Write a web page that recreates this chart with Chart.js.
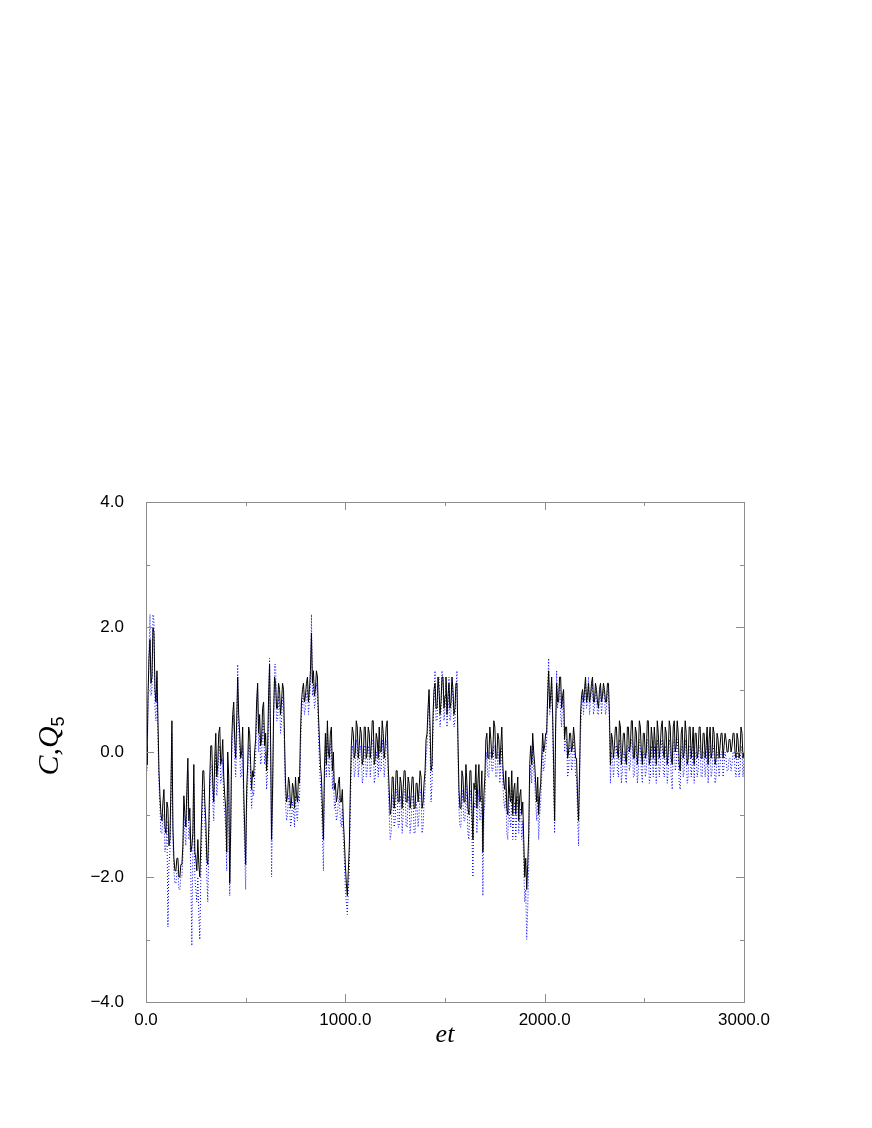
<!DOCTYPE html>
<html>
<head>
<meta charset="utf-8">
<script src="https://cdn.jsdelivr.net/npm/chart.js@4.4.0/dist/chart.umd.min.js"></script>
<style>
    html, body { margin: 0; padding: 0; background: #fff; }
    canvas { display: block; }
</style>
</head>
<body>
<canvas id="myChart" width="872" height="1128"></canvas>
<script>
// sample spacing of the time series (et)
const tStep = 5;

// C (black solid), one row = 100 units of et
const C = [
    0.1, -0.2, 0.9, 1.5, 1.8, 1.1, 1.2, 2.0, 1.9, 1.0,
    0.8, 1.3, 0.5, -0.3, -0.7, -1.0, -1.1, -0.8, -0.6, -1.2,
    -1.3, -0.8, -0.9, -1.5, -1.4, -0.6, 0.5, -1.2, -1.7, -1.9,
    -1.9, -1.7, -1.7, -2.0, -2.0, -1.8, -1.8, -1.5, -0.7, -1.0,
    -1.2, -0.6, -0.1, -1.1, -0.9, -1.6, -1.5, -1.3, -0.2, -1.6,
    -1.7, -1.9, -1.4, -1.8, -2.0, -1.5, -0.9, -0.3, -0.3, -0.8,
    -1.1, -1.7, -1.8, -1.2, -0.4, 0.1, 0.1, -0.5, -0.8, -0.1,
    0.3, -0.4, -0.2, 0.3, 0.4, -0.2, -0.1, 0.2, -0.4, -0.7,
    -0.9, -1.6, 0.0, -0.4, -2.1, -1.2, 0.2, 0.6, 0.8, 0.2,
    -0.1, 0.5, 1.2, 0.6, 0.3, -0.1, 0.0, 0.4, -0.6, -1.2,
    -1.8, -0.6, -0.2, 0.4, 0.3, -0.2, -0.6, -0.3, -0.4, 0.0,
    0.2, 0.8, 1.1, 0.3, 0.6, 0.1, 0.2, 0.7, 0.8, 0.1,
    0.3, -0.3, 0.0, 0.9, 1.4, 0.2, -1.4, -0.6, 0.6, 1.2,
    1.1, 0.7, 0.7, 1.1, 1.0, 0.6, 0.8, 1.1, 1.0, 0.2,
    -0.5, -0.8, -0.7, -0.4, -0.5, -0.9, -0.8, -0.5, -0.6, -0.9,
    -0.4, -0.7, -0.8, -0.4, -0.5, 0.3, 0.8, 1.0, 1.1, 0.8,
    0.9, 1.1, 1.2, 0.8, 1.0, 1.3, 1.9, 1.1, 1.3, 0.9,
    1.0, 1.3, 1.2, 0.6, 0.2, -0.2, -0.4, -0.9, -1.4, -0.3,
    0.3, -0.2, 0.5, 0.0, -0.1, 0.3, 0.4, -0.3, 0.0, -0.6,
    -0.5, -0.8, -0.7, -0.5, -0.4, -0.8, -0.8, -0.6, -1.1, -1.4,
    -1.8, -2.1, -2.3, -1.9, -1.5, -0.6, 0.1, 0.4, 0.3, -0.1,
    0.0, 0.5, 0.4, -0.1, 0.1, 0.4, 0.3, -0.2, -0.1, 0.4,
    0.4, -0.1, 0.0, 0.4, 0.3, -0.1, 0.1, 0.5, 0.5, -0.2,
    -0.1, 0.3, 0.2, -0.1, 0.4, 0.0, 0.0, 0.5, 0.3, -0.1,
    0.1, 0.4, 0.5, -0.2, -0.6, -1.0, -0.9, -0.4, -0.4, -0.9,
    -0.7, -0.3, -0.3, -0.8, -0.8, -0.4, -0.5, -0.9, -0.6, -0.3,
    -0.3, -0.8, -0.8, -0.4, -0.5, -0.9, -0.7, -0.4, -0.4, -0.9,
    -0.9, -0.5, -0.5, -0.8, -0.6, -0.3, -0.4, -0.9, -0.8, -0.5,
    -0.3, 0.2, 0.3, 0.7, 1.0, 0.4, -0.3, -0.2, 0.6, 1.0,
    1.1, 0.7, 0.7, 1.2, 1.0, 0.6, 0.8, 1.2, 1.2, 0.7,
    0.9, 1.2, 0.6, 0.9, 1.1, 0.7, 0.8, 1.2, 1.0, 0.6,
    0.7, 1.1, 1.1, 0.2, -0.6, -0.9, -0.9, -0.3, -0.4, -0.8,
    -0.8, -0.2, -0.5, -0.9, -1.0, -0.3, -0.3, -0.9, -1.4, -0.5,
    -0.6, -0.2, -0.9, -0.5, -0.2, -0.8, -0.7, -0.3, -1.6, -0.7,
    -0.4, 0.2, 0.3, -0.1, -0.1, 0.4, 0.2, -0.1, 0.0, 0.5,
    0.4, -0.1, -0.1, 0.3, 0.2, -0.2, 0.1, 0.4, -0.2, -0.5,
    -0.6, -0.3, -0.9, -1.0, -0.4, -0.7, -0.8, -0.3, -1.0, -0.6,
    -0.5, -1.0, -0.7, -0.4, -1.1, -0.7, -0.6, -1.0, -0.8, -1.4,
    -2.0, -1.7, -2.2, -1.8, -1.3, -0.2, 0.1, -0.2, 0.3, 0.0,
    -0.2, -0.5, -0.8, -0.4, -1.0, -0.7, -0.5, -0.1, 0.3, 0.0,
    0.1, 0.3, 0.3, 0.9, 1.3, 0.7, 0.9, 1.2, 0.6, -0.2,
    -1.1, 0.4, 1.1, 0.8, 0.8, 1.2, 1.2, 0.7, 0.9, 1.0,
    0.2, 0.4, 0.4, -0.1, 0.0, 0.3, 0.3, 0.0, 0.1, 0.4,
    0.2, -0.1, -0.1, -0.7, -1.1, -0.3, 0.6, 0.9, 1.0, 0.8,
    1.0, 1.2, 0.8, 0.9, 1.1, 0.8, 0.9, 1.1, 1.2, 0.8,
    0.8, 1.1, 1.0, 0.8, 0.7, 1.0, 1.1, 0.8, 0.9, 1.1,
    1.0, 0.8, 0.8, 1.1, 1.1, 0.6, -0.2, 0.3, 0.2, -0.1,
    0.1, 0.4, 0.4, 0.0, -0.1, 0.5, 0.4, -0.2, 0.0, 0.3,
    0.3, -0.1, -0.2, 0.4, 0.4, 0.0, 0.1, 0.5, 0.5, -0.1,
    -0.1, 0.4, 0.3, -0.2, 0.0, 0.5, 0.4, 0.0, -0.2, 0.3,
    0.3, -0.1, 0.0, 0.5, 0.5, -0.2, -0.1, 0.4, 0.2, -0.1,
    0.4, 0.1, -0.2, 0.5, 0.3, -0.1, 0.1, 0.4, 0.5, 0.0,
    -0.1, 0.4, 0.3, -0.2, 0.0, 0.5, 0.4, -0.1, -0.2, 0.4,
    0.5, 0.0, 0.1, 0.5, 0.3, -0.2, -0.3, 0.3, 0.4, -0.1,
    0.0, 0.5, 0.3, -0.2, -0.1, 0.4, 0.4, -0.1, 0.1, 0.4,
    -0.2, 0.3, 0.3, -0.1, 0.0, 0.4, 0.4, -0.1, -0.1, 0.3,
    0.3, -0.1, 0.1, 0.4, -0.2, 0.2, 0.4, -0.1, 0.0, 0.4,
    0.3, -0.2, -0.1, 0.3, 0.2, -0.1, 0.1, 0.3, 0.3, -0.1,
    0.1, 0.3, 0.2, 0.0, 0.0, 0.2, 0.2, 0.0, 0.1, 0.3,
    0.3, 0.0, -0.1, 0.3, 0.2, -0.1, 0.0, 0.4, 0.3, -0.1,
    0.0
];

// Q5 (blue dotted), one row = 100 units of et
const Q5 = [
    0.0, -0.3, 0.6, 1.6, 2.2, 0.9, 1.0, 2.2, 2.1, 0.7,
    0.5, 1.2, 0.2, -0.5, -0.9, -1.3, -1.3, -1.0, -1.0, -1.6,
    -1.5, -1.1, -2.8, -1.8, -1.6, -0.8, 0.3, -1.4, -1.9, -2.1,
    -2.1, -1.9, -1.9, -2.2, -2.2, -2.0, -2.0, -1.7, -1.0, -1.3,
    -1.5, -0.9, -0.3, -1.4, -1.2, -2.0, -3.1, -1.6, -0.5, -2.0,
    -2.2, -2.4, -2.0, -2.6, -3.0, -2.0, -1.3, -0.6, -0.6, -1.1,
    -1.4, -2.0, -2.4, -1.5, -0.7, -0.2, -0.2, -0.8, -1.1, -0.4,
    0.0, -0.7, -0.5, 0.0, 0.1, -0.5, -0.4, -0.1, -0.8, -1.0,
    -1.2, -1.9, -0.3, -0.7, -2.3, -1.4, -0.1, 0.3, 0.6, -0.1,
    -0.4, 0.2, 1.4, 0.4, 0.0, -0.4, -0.4, 0.1, -0.9, -1.6,
    -2.2, -0.9, -0.5, 0.1, 0.1, -0.5, -0.9, -0.6, -0.7, -0.4,
    -0.1, 0.6, 1.1, 0.0, 0.3, -0.2, -0.1, 0.4, 0.5, -0.2,
    0.0, -0.6, -0.3, 0.7, 1.5, 0.0, -2.0, -0.9, 0.4, 1.4,
    1.4, 0.5, 0.5, 0.9, 0.8, 0.3, 0.5, 0.9, 0.9, -0.1,
    -0.8, -1.1, -1.0, -0.7, -0.8, -1.2, -1.1, -0.8, -0.9, -1.2,
    -0.7, -1.0, -1.1, -0.7, -0.8, 0.0, 0.6, 0.8, 0.9, 0.6,
    0.7, 0.9, 1.0, 0.6, 0.8, 1.1, 2.2, 0.9, 1.1, 0.7,
    0.8, 1.1, 1.0, 0.3, -0.2, -0.5, -0.8, -1.3, -1.9, -0.6,
    0.1, -0.4, 0.3, -0.2, -0.4, 0.1, 0.2, -0.6, -0.3, -0.9,
    -0.8, -1.1, -1.0, -0.8, -0.7, -1.1, -1.2, -0.9, -1.4, -1.7,
    -2.2, -2.4, -2.6, -2.2, -1.9, -0.9, -0.2, 0.1, 0.0, -0.4,
    -0.3, 0.2, 0.1, -0.4, -0.2, 0.1, 0.0, -0.5, -0.4, 0.1,
    0.1, -0.4, -0.3, 0.1, 0.0, -0.4, -0.2, 0.2, 0.2, -0.5,
    -0.4, 0.0, -0.1, -0.4, 0.1, -0.3, -0.3, 0.2, 0.0, -0.4,
    -0.2, 0.1, 0.2, -0.5, -1.0, -1.4, -1.3, -0.7, -0.7, -1.2,
    -1.1, -0.6, -0.6, -1.2, -1.2, -0.7, -0.8, -1.3, -1.0, -0.6,
    -0.6, -1.2, -1.2, -0.7, -0.8, -1.3, -1.1, -0.7, -0.7, -1.3,
    -1.3, -0.8, -0.9, -1.2, -1.0, -0.6, -0.7, -1.3, -1.2, -0.8,
    -0.6, -0.1, 0.1, 0.6, 0.9, 0.1, -0.8, -0.5, 0.4, 0.9,
    1.3, 0.5, 0.5, 1.1, 1.2, 0.4, 0.6, 1.3, 1.1, 0.5,
    0.7, 1.1, 0.4, 0.7, 1.2, 0.5, 0.6, 1.1, 0.9, 0.4,
    0.5, 1.0, 1.3, 0.0, -0.9, -1.2, -1.2, -0.6, -0.8, -1.1,
    -1.1, -0.5, -0.8, -1.3, -1.4, -0.6, -0.7, -1.3, -2.0, -0.8,
    -0.9, -0.5, -1.3, -0.9, -0.6, -1.1, -1.0, -0.7, -2.3, -1.0,
    -0.8, -0.2, 0.0, -0.4, -0.4, 0.0, 0.0, -0.3, -0.3, 0.1,
    0.1, -0.4, -0.4, 0.0, -0.1, -0.5, -0.2, 0.1, -0.5, -0.8,
    -0.9, -0.6, -1.3, -1.4, -0.7, -1.1, -1.2, -0.6, -1.4, -1.0,
    -0.8, -1.4, -1.0, -0.7, -1.3, -1.0, -0.9, -1.4, -1.1, -1.8,
    -2.4, -2.2, -3.0, -2.5, -1.8, -0.5, -0.2, -0.5, 0.1, -0.3,
    -0.5, -0.8, -1.1, -0.7, -1.4, -1.0, -0.8, -0.4, 0.1, -0.3,
    -0.2, 0.0, 0.2, 1.0, 1.5, 0.6, 0.7, 1.1, 0.5, -0.5,
    -1.3, 0.2, 1.3, 0.7, 1.0, 1.1, 0.6, 0.4, 0.9, 0.8,
    0.0, 0.2, 0.2, -0.4, -0.3, 0.1, 0.1, -0.3, -0.2, 0.2,
    0.0, -0.4, -0.4, -1.0, -1.5, -0.6, 0.3, 0.7, 0.9, 0.6,
    0.9, 1.1, 0.7, 0.8, 1.2, 0.6, 0.8, 1.0, 1.1, 0.6,
    0.7, 1.0, 0.9, 0.6, 0.6, 0.9, 1.0, 0.6, 0.8, 1.0,
    0.9, 0.6, 0.7, 1.0, 1.0, 0.4, -0.5, 0.0, -0.1, -0.4,
    -0.2, 0.1, 0.1, -0.3, -0.4, 0.2, 0.1, -0.5, -0.3, 0.0,
    0.0, -0.4, -0.5, 0.1, 0.1, -0.3, -0.2, 0.2, 0.2, -0.4,
    -0.4, 0.1, 0.0, -0.5, -0.3, 0.2, 0.1, -0.3, -0.5, 0.0,
    0.0, -0.4, -0.3, 0.2, 0.2, -0.5, -0.4, 0.1, -0.1, -0.4,
    0.1, -0.2, -0.5, 0.2, 0.0, -0.4, -0.2, 0.1, 0.2, -0.3,
    -0.4, 0.1, 0.0, -0.5, -0.3, 0.2, 0.1, -0.4, -0.6, 0.1,
    0.2, -0.3, -0.2, 0.2, 0.0, -0.5, -0.6, 0.0, 0.1, -0.4,
    -0.3, 0.2, 0.0, -0.5, -0.4, 0.1, 0.1, -0.4, -0.2, 0.1,
    -0.5, 0.0, 0.0, -0.4, -0.3, 0.1, 0.1, -0.4, -0.4, 0.0,
    0.0, -0.4, -0.2, 0.1, -0.5, -0.1, 0.1, -0.4, -0.3, 0.1,
    0.0, -0.5, -0.4, 0.0, -0.1, -0.4, -0.2, 0.0, 0.0, -0.4,
    -0.2, 0.0, -0.1, -0.3, -0.3, -0.1, -0.1, -0.3, -0.2, 0.0,
    0.0, -0.3, -0.4, 0.0, -0.1, -0.4, -0.3, 0.1, 0.0, -0.4,
    -0.1
];

const xTicks = [0, 1000, 2000, 3000];
const yTicks = [-4, -2, 0, 2, 4];

const toPoints = arr => arr.map((v, i) => ({ x: i * tStep, y: v }));
const fmt = v => (v < 0 ? '\u2212' : '') + Math.abs(v).toFixed(1);

// frame, inward ticks and axis titles
const framePlugin = {
    id: 'frame',
    afterDraw(chart) {
        const { ctx, chartArea: a, scales } = chart;
        const sx = scales.x, sy = scales.y;
        ctx.save();
        ctx.strokeStyle = '#8c8c8c';
        ctx.lineWidth = 1;
        ctx.strokeRect(a.left + 0.5, a.top + 0.5, a.right - a.left, a.bottom - a.top);

        ctx.beginPath();
        for (let v = 0; v <= 3000; v += 500) {
            const px = Math.round(sx.getPixelForValue(v)) + 0.5;
            const len = (v % 1000 === 0) ? 8 : 4;
            ctx.moveTo(px, a.bottom); ctx.lineTo(px, a.bottom - len);
            ctx.moveTo(px, a.top); ctx.lineTo(px, a.top + len);
        }
        for (let v = -4; v <= 4; v += 1) {
            const py = Math.round(sy.getPixelForValue(v)) + 0.5;
            const len = (v % 2 === 0) ? 8 : 4;
            ctx.moveTo(a.left, py); ctx.lineTo(a.left + len, py);
            ctx.moveTo(a.right, py); ctx.lineTo(a.right - len, py);
        }
        ctx.stroke();

        // x title
        ctx.fillStyle = '#000';
        ctx.font = 'italic 26px "Liberation Serif"';
        ctx.textAlign = 'center';
        ctx.textBaseline = 'alphabetic';
        ctx.fillText('et', (a.left + a.right) / 2, 1042);

        // y title  C,Q5
        ctx.translate(58, 746);
        ctx.rotate(-Math.PI / 2);
        ctx.textAlign = 'left';
        ctx.font = 'italic 30px "Liberation Serif"';
        const main = 'C,Q';
        const w = ctx.measureText(main).width;
        ctx.font = '18px "Liberation Sans"';
        const ws = ctx.measureText('5').width;
        const x0 = -(w + ws) / 2;
        ctx.font = 'italic 30px "Liberation Serif"';
        ctx.fillText(main, x0, 0);
        ctx.font = '18px "Liberation Sans"';
        ctx.fillText('5', x0 + w, 6);
        ctx.restore();
    }
};

const ctx = document.getElementById('myChart').getContext('2d');
const myChart = new Chart(ctx, {
    type: 'line',
    data: {
        datasets: [{
            label: 'C',
            data: toPoints(C),
            borderColor: '#000000',
            borderWidth: 1,
            pointRadius: 0,
            tension: 0
        }, {
            label: 'Q5',
            data: toPoints(Q5),
            borderColor: '#0000ff',
            borderWidth: 1,
            borderDash: [1, 2],
            pointRadius: 0,
            tension: 0
        }]
    },
    options: {
        responsive: false,
        devicePixelRatio: 1,
        animation: false,
        layout: { padding: { left: 0, top: 502, right: 128, bottom: 0 } },
        plugins: { legend: { display: false }, tooltip: { enabled: false } },
        scales: {
            x: {
                type: 'linear',
                min: 0,
                max: 3000,
                grid: { display: false },
                border: { display: false },
                afterFit: s => { s.height = 126; },
                afterBuildTicks: s => { s.ticks = xTicks.map(v => ({ value: v })); },
                ticks: {
                    color: '#000',
                    padding: 0,
                    maxRotation: 0,
                    font: { family: '"Liberation Sans"', size: 17 },
                    callback: v => v.toFixed(1)
                }
            },
            y: {
                type: 'linear',
                min: -4,
                max: 4,
                grid: { display: false },
                border: { display: false },
                afterFit: s => { s.width = 146; },
                afterBuildTicks: s => { s.ticks = yTicks.map(v => ({ value: v })); },
                ticks: {
                    color: '#000',
                    padding: 14,
                    font: { family: '"Liberation Sans"', size: 17 },
                    callback: v => fmt(v)
                }
            }
        }
    },
    plugins: [framePlugin]
});
</script>
</body>
</html>
